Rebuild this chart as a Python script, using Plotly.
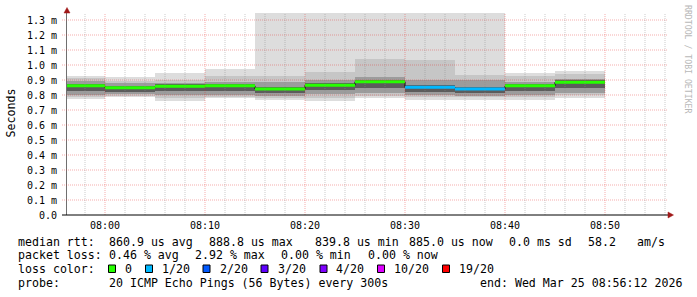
import plotly.graph_objects as go
from datetime import datetime, timedelta

# ---------------- data (values in milliseconds) ----------------
bucket_start = ["2026-03-25 07:55:00", "2026-03-25 08:00:00", "2026-03-25 08:05:00",
                "2026-03-25 08:10:00", "2026-03-25 08:15:00", "2026-03-25 08:20:00",
                "2026-03-25 08:25:00", "2026-03-25 08:30:00", "2026-03-25 08:35:00",
                "2026-03-25 08:40:00", "2026-03-25 08:45:00"]
step_seconds = 300

median = [0.861, 0.848, 0.859, 0.861, 0.840, 0.865, 0.8888, 0.851, 0.8398, 0.861, 0.885]
loss = [0, 0, 0, 0, 0, 0, 0, 1, 1, 0, 0]

ping_max = [0.929, 0.918, 0.949, 0.973, 1.50, 1.50, 1.50, 1.50, 1.50, 0.949, 0.962]
ping_p90 = [0.911, 0.896, 0.900, 0.925, 0.927, 0.956, 1.040, 1.033, 0.933, 0.925, 0.940]
ping_p75 = [0.893, 0.878, 0.882, 0.885, 0.889, 0.900, 0.922, 0.900, 0.900, 0.885, 0.905]
ping_p60 = [0.874, 0.862, 0.872, 0.874, 0.855, 0.878, 0.903, 0.866, 0.854, 0.874, 0.897]
ping_p40 = [0.829, 0.822, 0.829, 0.830, 0.815, 0.835, 0.844, 0.822, 0.815, 0.830, 0.845]
ping_p25 = [0.800, 0.805, 0.800, 0.800, 0.795, 0.805, 0.811, 0.800, 0.795, 0.800, 0.815]
ping_p10 = [0.784, 0.795, 0.780, 0.790, 0.780, 0.780, 0.795, 0.789, 0.785, 0.785, 0.800]
ping_min = [0.771, 0.785, 0.762, 0.778, 0.767, 0.762, 0.778, 0.767, 0.767, 0.767, 0.782]

y_tickvals = [0.0, 0.1, 0.2, 0.3, 0.4, 0.5, 0.6, 0.7, 0.8, 0.9, 1.0, 1.1, 1.2, 1.3]
y_ticktext = ["0.0", "0.1 m", "0.2 m", "0.3 m", "0.4 m", "0.5 m", "0.6 m", "0.7 m",
              "0.8 m", "0.9 m", "1.0 m", "1.1 m", "1.2 m", "1.3 m"]

x_range = ["2026-03-25 07:56:12", "2026-03-25 08:56:12"]
y_range = [0, 1.3467]
x_major_minutes = 10
x_minor_minutes = 2

loss_levels = ["0", "1/20", "2/20", "3/20", "4/20", "10/20", "19/20"]
loss_colors = ["#26ff00", "#00b8ff", "#0059ff", "#5e00ff", "#7e00ff", "#dd00ff", "#ff0000"]
loss_color_by_count = {0: "#26ff00", 1: "#00b8ff", 2: "#0059ff", 3: "#5e00ff",
                       4: "#7e00ff", 10: "#dd00ff", 19: "#ff0000"}

stats_line = [("median rtt:", 16), ("860.9 us avg", 107), ("888.8 us max", 207),
              ("839.8 us min", 312.5), ("885.0 us now", 406.5), ("0.0 ms sd", 507),
              ("58.2", 586), ("am/s", 635)]
loss_line = [("packet loss:", 16), ("0.46 % avg", 107), ("2.92 % max", 193),
             ("0.00 % min", 278.5), ("0.00 % now", 365.5)]
probe_line = [("probe:", 16), ("20 ICMP Echo Pings (56 Bytes) every 300s", 107),
              ("end: Wed Mar 25 08:56:12 2026", 478)]
box_x = [108.5, 145.5, 203, 261, 320, 377.5, 442.5]
label_x = [123, 160, 217.5, 276, 334, 392, 456.5]

# ---------------- geometry helpers ----------------
W, H = 697, 297
L, R, T, B = 67, 667, 13, 215
FONT = "DejaVu Sans Mono"
MGRID = "rgba(230,40,40,0.38)"
GRID = "rgba(140,140,140,0.45)"


def px(x):
    return (x - L) / (R - L)


def py(y):
    return (B - y) / (B - T)


starts = [datetime.strptime(s, "%Y-%m-%d %H:%M:%S") for s in bucket_start]
ends = [s + timedelta(seconds=step_seconds) for s in starts]
centers = [s + timedelta(seconds=step_seconds / 2) for s in starts]

fig = go.Figure()

# smoke bands (outer to inner)
bands = [
    (ping_min, ping_max, "#dddddd"),
    (ping_p10, ping_p90, "#c6c6c6"),
    (ping_p25, ping_p75, "#9c9c9c"),
    (ping_p40, ping_p60, "#5c5c5c"),
]
for lo, hi, col in bands:
    fig.add_trace(go.Bar(
        x=centers, y=[h - l for l, h in zip(lo, hi)], base=lo,
        width=step_seconds * 1000, marker=dict(color=col, line=dict(width=0)),
        hoverinfo="skip", showlegend=False))

shapes = []
annotations = []

# grid drawn over the smoke (as rrdtool does)
x0 = datetime.strptime(x_range[0], "%Y-%m-%d %H:%M:%S")
x1 = datetime.strptime(x_range[1], "%Y-%m-%d %H:%M:%S")
t = x0.replace(second=0)
while t <= x1:
    if t >= x0:
        if t.minute % x_major_minutes == 0:
            col = MGRID
        elif t.minute % x_minor_minutes == 0:
            col = GRID
        else:
            col = None
        if col:
            shapes.append(dict(type="line", xref="x", yref="paper", x0=t, x1=t,
                               y0=0, y1=1, layer="above",
                               line=dict(color=col, width=1, dash="1px,1px")))
    t += timedelta(minutes=1)
for v in y_tickvals[1:]:
    shapes.append(dict(type="line", xref="paper", yref="y", x0=px(62), x1=1,
                       y0=v, y1=v, layer="above",
                       line=dict(color=MGRID, width=1, dash="1px,1px")))

# thin black median step line (gives the vertical connectors)
fig.add_trace(go.Scatter(
    x=starts + [ends[-1]], y=median + [median[-1]], mode="lines",
    line=dict(color="#000000", width=1, shape="hv"),
    hoverinfo="skip", showlegend=False))

# coloured median segments by loss
for cnt, col in loss_color_by_count.items():
    xs, ys = [], []
    for s, e, m, lo_ in zip(starts, ends, median, loss):
        if lo_ == cnt:
            xs += [s, e, None]
            ys += [m, m, None]
    if xs:
        fig.add_trace(go.Scatter(x=xs, y=ys, mode="lines",
                                 line=dict(color=col, width=3),
                                 hoverinfo="skip", showlegend=False))

# x axis line (extends a bit left of the y axis)
shapes.append(dict(type="line", xref="paper", yref="paper",
                   x0=px(62), x1=px(668), y0=0, y1=0, layer="above",
                   line=dict(color="#000000", width=1)))
# arrows
arrow_col = "#a01818"
shapes.append(dict(type="path", xref="paper", yref="paper", layer="above",
                   path=f"M {px(668)} {py(212)} L {px(673.5)} {py(215)} L {px(668)} {py(218)} Z",
                   fillcolor=arrow_col, line=dict(color=arrow_col, width=0.5)))
shapes.append(dict(type="path", xref="paper", yref="paper", layer="above",
                   path=f"M {px(64)} {py(13)} L {px(67)} {py(7.5)} L {px(70)} {py(13)} Z",
                   fillcolor=arrow_col, line=dict(color=arrow_col, width=0.5)))

# legend boxes
for bx, col in zip(box_x, loss_colors):
    shapes.append(dict(type="rect", xref="paper", yref="paper",
                       x0=px(bx), x1=px(bx + 7), y0=py(265), y1=py(272.5),
                       fillcolor=col, line=dict(color="#000000", width=1)))


def add_text(txt, x, y, size=11.6, color="#000000"):
    annotations.append(dict(text=txt, x=px(x), y=py(y), xref="paper", yref="paper",
                            xanchor="left", yanchor="middle", showarrow=False,
                            font=dict(family=FONT, size=size, color=color)))


for txt, x in stats_line:
    add_text(txt, x, 241.8)
for txt, x in loss_line:
    add_text(txt, x, 255.4)
add_text("loss color:", 16, 269)
for lab, x in zip(loss_levels, label_x):
    add_text(lab, x, 269)
for txt, x in probe_line:
    add_text(txt, x, 282.8)

# y title
annotations.append(dict(text="Seconds", x=px(10.5), y=py(113), xref="paper", yref="paper",
                        xanchor="center", yanchor="middle", showarrow=False, textangle=-90,
                        font=dict(family=FONT, size=11.6, color="#000000")))
# watermark
annotations.append(dict(text="RRDTOOL / TOBI OETIKER", x=px(688), y=py(59),
                        xref="paper", yref="paper", xanchor="center", yanchor="middle",
                        showarrow=False, textangle=90,
                        font=dict(family=FONT, size=8.2, color="#b8b8b8")))

fig.update_layout(
    width=W, height=H,
    margin=dict(l=L, r=W - R, t=T, b=H - B, pad=0),
    paper_bgcolor="#ffffff", plot_bgcolor="#ffffff",
    barmode="overlay", bargap=0, showlegend=False,
    shapes=shapes, annotations=annotations,
    xaxis=dict(type="date", range=x_range, dtick=x_major_minutes * 60000,
               tick0="2026-03-25 08:00:00", tickformat="%H:%M", showgrid=False,
               zeroline=False, showline=False, ticks="", ticklabelstandoff=3,
               tickfont=dict(family=FONT, size=10, color="#000000"),
               fixedrange=True),
    yaxis=dict(range=y_range, tickvals=y_tickvals, ticktext=y_ticktext,
               showgrid=False, zeroline=False, showline=True, linecolor="#707070",
               linewidth=1, ticks="", ticklabelstandoff=7,
               tickfont=dict(family=FONT, size=10, color="#000000"),
               fixedrange=True, layer="above traces"),
)

fig.write_html("out.html")
